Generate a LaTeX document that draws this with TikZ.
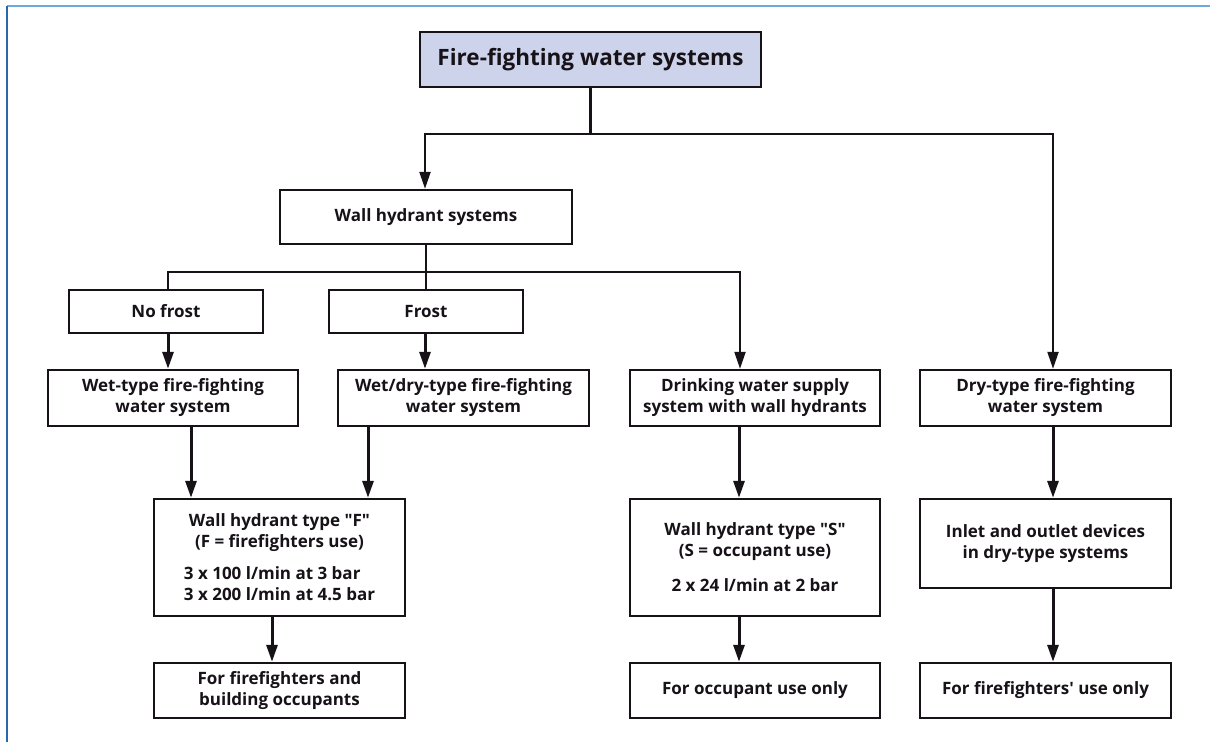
\documentclass[tikz,border=0pt]{standalone}
\usepackage{fontspec}
\newfontfamily\diafont{Open Sans}
\usetikzlibrary{arrows.meta}
\definecolor{framelight}{HTML}{6FA8DC}
\definecolor{framedark}{HTML}{2A66AA}
\definecolor{topfill}{HTML}{CDD3EA}
\definecolor{ink}{HTML}{161218}
\tikzset{
  box/.style={draw=ink, line width=2.4pt, fill=white, inner sep=0pt, align=center,
    font=\diafont\bfseries\fontsize{17}{21}\selectfont, text=ink},
  thinline/.style={draw=ink, line width=2.2pt},
  thickline/.style={draw=ink, line width=3pt},
  tip/.style={-{Triangle[length=17pt,width=11pt]}},
}
\begin{document}
\begin{tikzpicture}[x=1pt,y=-1pt]
\useasboundingbox (0,0) rectangle (1210,742);
\fill[white] (0,0) rectangle (1210,742);
\draw[framelight, line width=2pt] (7,6) -- (1210,6);
\draw[framedark, line width=1.5pt] (7,6) -- (7,742);

\node[box, fill=topfill, minimum width=341pt, minimum height=55pt,
  font=\diafont\bfseries\fontsize{22.5}{26}\selectfont] (top) at (590.5,59.5) {Fire-fighting water systems};
\node[box, minimum width=292pt, minimum height=54pt] (wall) at (426,217) {Wall hydrant systems};
\node[box, minimum width=194pt, minimum height=43pt] (nofrost) at (166,311.5) {No frost};
\node[box, minimum width=194pt, minimum height=43pt] (frost) at (426,311.5) {Frost};
\node[box, minimum width=250pt, minimum height=56pt] (wet) at (173,398) {Wet-type fire-fighting\\water system};
\node[box, minimum width=251pt, minimum height=56pt] (wetdry) at (463.5,398) {Wet/dry-type fire-fighting\\water system};
\node[box, minimum width=250pt, minimum height=56pt] (drink) at (755,398) {Drinking water supply\\system with wall hydrants};
\node[box, minimum width=251pt, minimum height=56pt] (dry) at (1045.5,398) {Dry-type fire-fighting\\water system};
\node[box, minimum width=251pt, minimum height=117pt] (hydF) at (279.5,557.5) {Wall hydrant type "F"\\(F = firefighters use)\\[14pt]\vbox{\hbox{3 x 100 l/min at 3 bar}\hbox{3 x 200 l/min at 4.5 bar}}};
\node[box, minimum width=250pt, minimum height=117pt] (hydS) at (755,557.5) {Wall hydrant type "S"\\(S = occupant use)\\[14pt]2 x 24 l/min at 2 bar};
\node[box, minimum width=251pt, minimum height=89pt] (inlet) at (1045.5,543.5) {Inlet and outlet devices\\in dry-type systems};
\node[box, minimum width=251pt, minimum height=55pt] (useA) at (279.5,690.5) {For firefighters and\\building occupants};
\node[box, minimum width=250pt, minimum height=55pt] (useB) at (755,690.5) {For occupant use only};
\node[box, minimum width=251pt, minimum height=55pt] (useC) at (1045.5,690.5) {For firefighters' use only};

% top level
\coordinate (j1) at (top.south |- 0,134);
\draw[thinline] (top.south) -- (j1);
\draw[thinline, tip] (j1) -| ([xshift=-1pt]wall.north);
\draw[thinline, tip] (j1) -| ([xshift=7.5pt]dry.north);

% wall hydrant branches
\coordinate (j2) at (wall.south |- 0,272);
\draw[thinline] (wall.south) -- (frost.north);
\draw[thinline] (j2) -| ([xshift=2pt]nofrost.north);
\draw[thinline, tip] (j2) -| ([xshift=-15pt]drink.north);

% second level
\draw[thickline, tip] ([xshift=2pt]nofrost.south) -- ([xshift=2pt]nofrost.south |- wet.north);
\draw[thickline, tip] ([xshift=-1pt]frost.south) -- ([xshift=-1pt]frost.south |- wetdry.north);

% to hydrant type boxes
\draw[thickline, tip] ([xshift=18pt]wet.south) -- ([xshift=18pt]wet.south |- hydF.north);
\draw[thickline, tip] ([xshift=-95.5pt]wetdry.south) -- ([xshift=-95.5pt]wetdry.south |- hydF.north);
\draw[thickline, tip] ([xshift=-16pt]drink.south) -- ([xshift=-16pt]drink.south |- hydS.north);
\draw[thickline, tip] ([xshift=7.5pt]dry.south) -- ([xshift=7.5pt]dry.south |- inlet.north);

% to usage boxes
\draw[thickline, tip] ([xshift=-7.5pt]hydF.south) -- ([xshift=-7.5pt]hydF.south |- useA.north);
\draw[thickline, tip] ([xshift=-16pt]hydS.south) -- ([xshift=-16pt]hydS.south |- useB.north);
\draw[thickline, tip] ([xshift=7.5pt]inlet.south) -- ([xshift=7.5pt]inlet.south |- useC.north);
\end{tikzpicture}
\end{document}
